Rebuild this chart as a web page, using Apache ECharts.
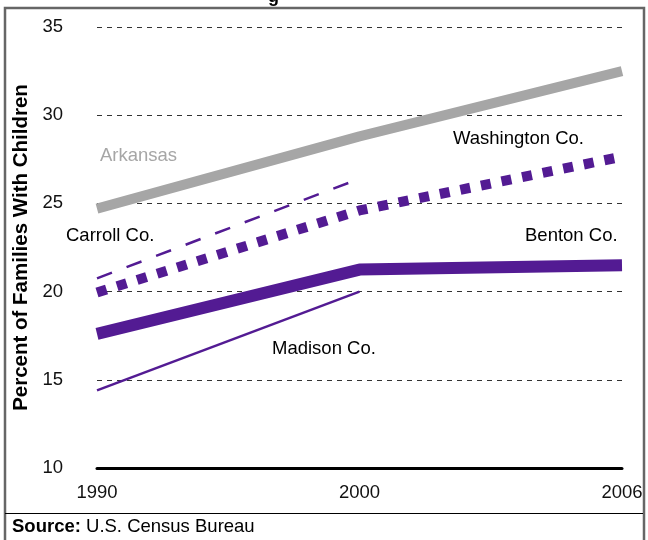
<!DOCTYPE html>
<html>
<head>
<meta charset="utf-8">
<script src="https://cdn.jsdelivr.net/npm/echarts@6/dist/echarts.min.js"></script>
<style>html,body{margin:0;padding:0;background:#fff}#c{width:648px;height:540px}</style>
</head>
<body>
<div id="c"></div>
<script>
var years = ['1990', '2000', '2006'];
var arkansas = [24.7, 28.8, 32.5];
var washington = [19.95, 24.6, 27.65];
var benton = [17.6, 21.25, 21.5];
var carroll = [20.75, 26.4, null];
var madison = [14.4, 20.0, null];
var yTicks = {min: 10, max: 35, step: 5};

var purple = '#531b93';
var FONT = 'Liberation Sans, Arial, Helvetica, sans-serif';

var chart = echarts.init(document.getElementById('c'), null, {renderer: 'canvas'});
function line(name, data, color, width, type) {
  return {
    name: name, type: 'line', data: data, symbol: 'none', connectNulls: false,
    lineStyle: {color: color, width: width, type: type || 'solid', cap: 'butt'},
    silent: true, animation: false
  };
}
chart.setOption({
  animation: false,
  backgroundColor: '#fff',
  grid: {left: 97, right: 26, top: 27, bottom: 72, containLabel: false},
  xAxis: {
    type: 'category', data: years, boundaryGap: false,
    axisLine: {show: true, lineStyle: {color: '#000', width: 3}},
    axisTick: {show: false},
    axisLabel: {color: '#111', fontSize: 18.5, fontFamily: FONT, margin: 15},
    splitLine: {show: false}
  },
  yAxis: {
    type: 'value', min: yTicks.min, max: yTicks.max, interval: yTicks.step,
    name: 'Percent of Families With Children', nameLocation: 'middle', nameGap: 65,
    nameTextStyle: {fontSize: 20.5, fontWeight: 'bold', fontFamily: FONT, color: '#000'},
    axisLine: {show: false}, axisTick: {show: false},
    axisLabel: {color: '#111', fontSize: 18.5, fontFamily: FONT, margin: 34},
    splitLine: {show: true, lineStyle: {color: '#333', width: 1, type: [5, 5]}}
  },
  series: [
    line('Arkansas', arkansas, '#a6a6a6', 10),
    line('Benton Co.', benton, purple, 12),
    line('Washington Co.', washington, purple, 10, [10, 11]),
    line('Carroll Co.', carroll, purple, 2.5, [16, 15.6]),
    line('Madison Co.', madison, purple, 2.5)
  ],
  graphic: [
    {type: 'rect', shape: {x: 5, y: 8, width: 639, height: 560}, style: {fill: 'none', stroke: '#666', lineWidth: 2.5}, silent: true},
    {type: 'line', shape: {x1: 5, y1: 513.5, x2: 643, y2: 513.5}, style: {stroke: '#000', lineWidth: 1}, silent: true},
    {type: 'text', left: 12, top: 517, style: {text: '{b|Source:} U.S. Census Bureau', font: '18.5px ' + FONT, fill: '#000', rich: {b: {fontWeight: 'bold', fontSize: 18.5, fontFamily: FONT}}}},
    {type: 'text', x: 268, y: -12, style: {text: 'g', font: 'bold 18px ' + FONT, fill: '#000'}},
    {type: 'text', x: 100, y: 156, style: {text: 'Arkansas', font: '18.5px ' + FONT, fill: '#a6a6a6', verticalAlign: 'middle'}},
    {type: 'text', x: 66, y: 236, style: {text: 'Carroll Co.', font: '18.5px ' + FONT, fill: '#000', verticalAlign: 'middle'}},
    {type: 'text', x: 453, y: 139, style: {text: 'Washington Co.', font: '18.5px ' + FONT, fill: '#000', verticalAlign: 'middle'}},
    {type: 'text', x: 525, y: 236, style: {text: 'Benton Co.', font: '18.5px ' + FONT, fill: '#000', verticalAlign: 'middle'}},
    {type: 'text', x: 272, y: 349, style: {text: 'Madison Co.', font: '18.5px ' + FONT, fill: '#000', verticalAlign: 'middle'}}
  ]
});
</script>
</body>
</html>
